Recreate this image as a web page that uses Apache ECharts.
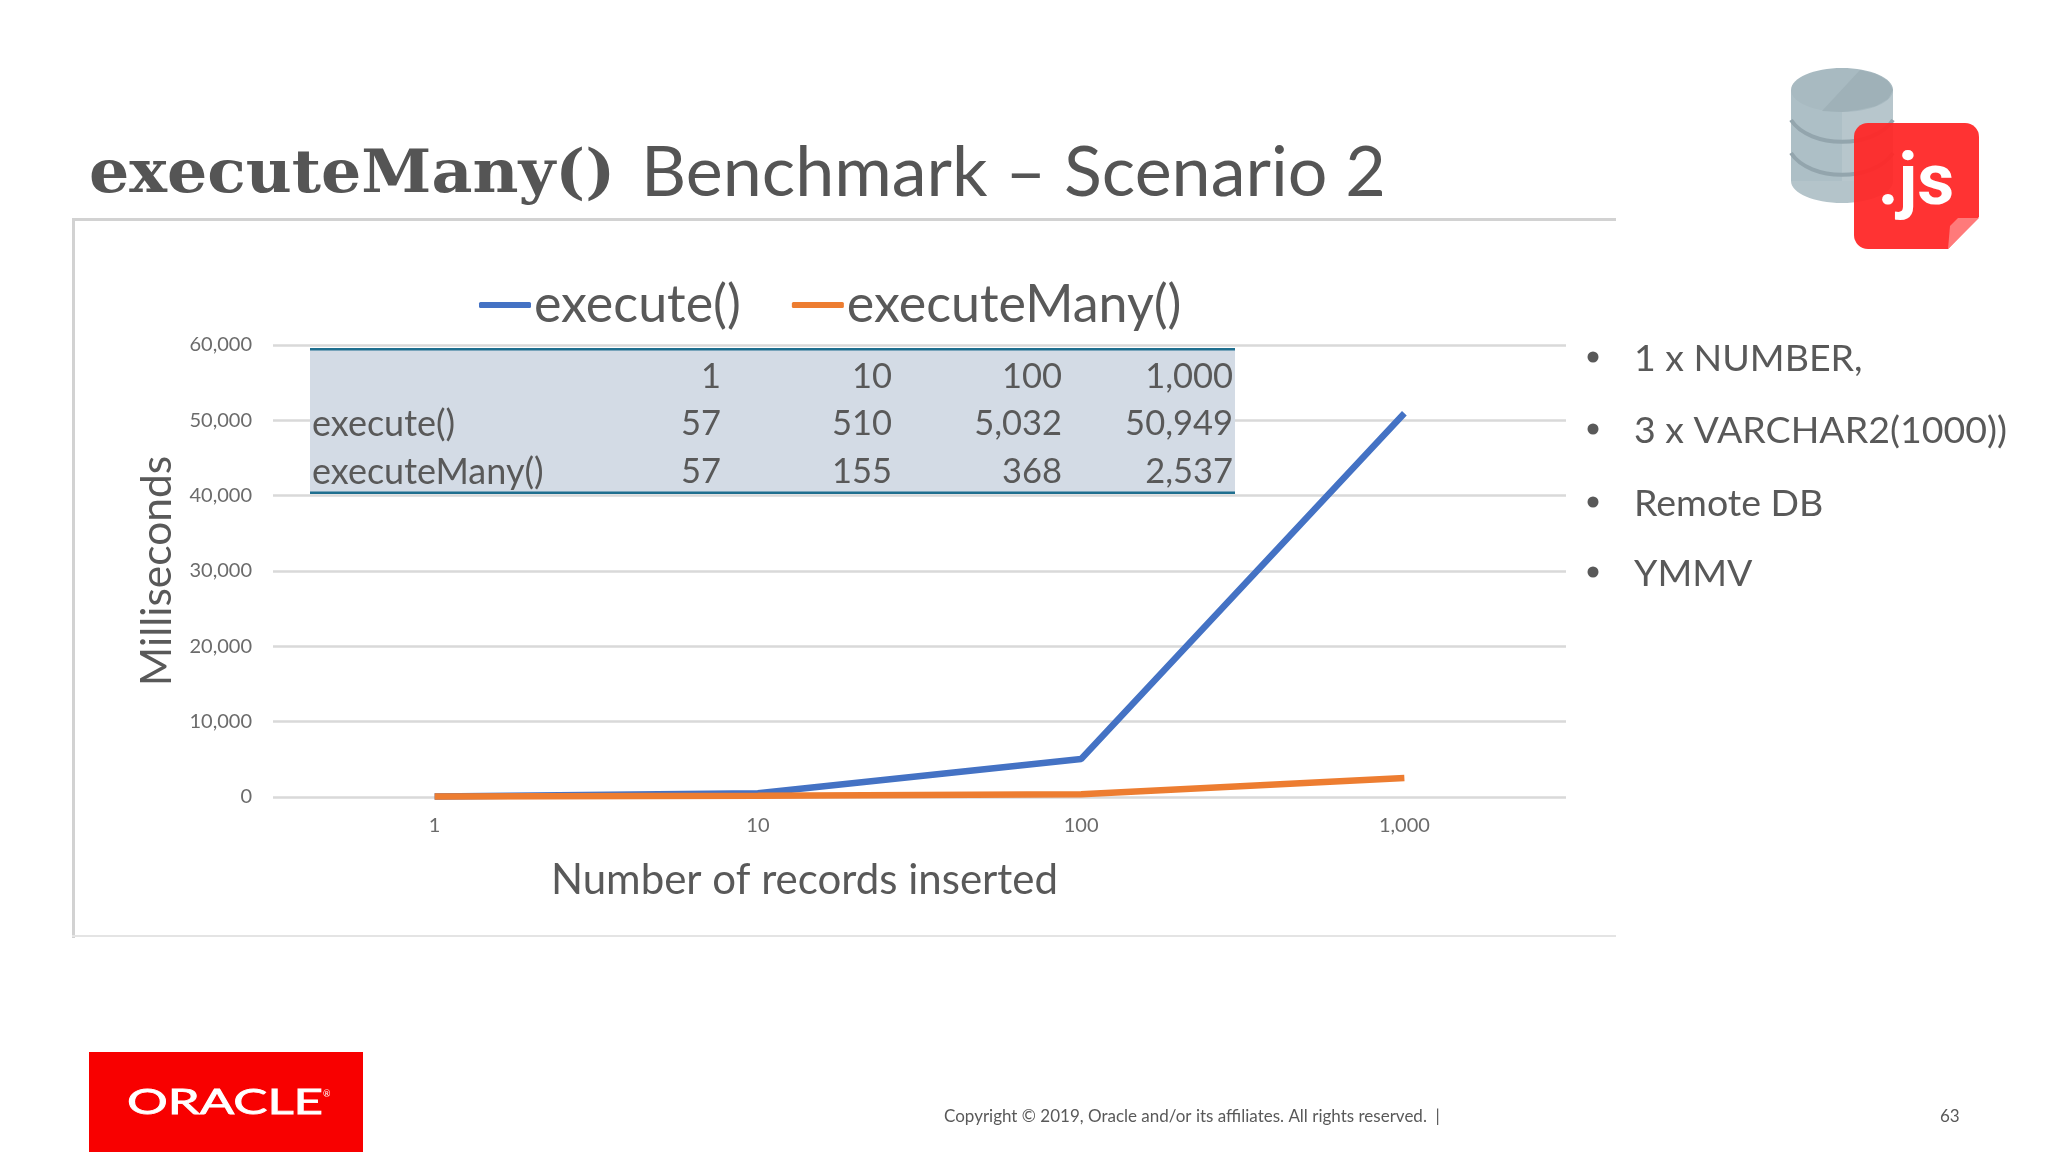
<!DOCTYPE html>
<html>
<head>
<meta charset="utf-8">
<style>html,body{margin:0;background:#fff}#main{width:2048px;height:1152px}</style>
<script src="https://cdn.jsdelivr.net/npm/echarts@6/dist/echarts.min.js"></script>
</head>
<body>
<div id="main"></div>
<script>
var categories = ['1', '10', '100', '1,000'];
var executeValues = [57, 510, 5032, 50949];
var executeManyValues = [57, 155, 368, 2537];
var yTicks = [0, 10000, 20000, 30000, 40000, 50000, 60000];
var seriesNames = ['execute()', 'executeMany()'];
var bullets = ['1 x NUMBER,', '3 x VARCHAR2(1000))', 'Remote DB', 'YMMV'];

var font = 'Lato';
var textColor = '#595959';

function fmt(v) {
    return v.toLocaleString('en-US');
}

function txt(x, y, text, size, color, align, extra) {
    var style = {
        x: x, y: y, text: text,
        font: size + 'px ' + font,
        fill: color || textColor,
        textAlign: align || 'left',
        textVerticalAlign: 'middle'
    };
    for (var k in extra) style[k] = extra[k];
    return { type: 'text', z: 20, style: style };
}

function box(x, y, w, h, color, z, r) {
    return { type: 'rect', z: z || 1, shape: { x: x, y: y, width: w, height: h, r: r || 0 }, style: { fill: color } };
}

var els = [];

// slide title, code part stretched to the width of the typewriter face
els.push({
    type: 'text', z: 20, x: 89, y: 176, scaleX: 1.055,
    style: { x: 0, y: 0, text: 'executeMany()', font: 'bold 60px "DejaVu Serif"', fill: '#555', textVerticalAlign: 'middle' }
});

// panel border round the pasted chart
els.push(box(72, 218, 1544, 3, '#d2d2d2', 1));
els.push(box(72, 218, 3, 720, '#d2d2d2', 1));
els.push(box(72, 935, 1544, 2, '#e4e4e4', 1));

// table on top of the chart
var colX = [721, 892, 1062, 1233];
var rowY = [377, 424, 472];
els.push(box(310, 349, 925, 144, '#d3dbe5', 10));
els.push(box(310, 348, 925, 2.5, '#1f6f8f', 11));
els.push(box(310, 491.5, 925, 2.5, '#1f6f8f', 11));
categories.forEach(function (c, i) {
    els.push(txt(colX[i], rowY[0], c, 34.5, textColor, 'right'));
    els.push(txt(colX[i], rowY[1], fmt(executeValues[i]), 34.5, textColor, 'right'));
    els.push(txt(colX[i], rowY[2], fmt(executeManyValues[i]), 34.5, textColor, 'right'));
});
els.push(txt(312, rowY[1], seriesNames[0], 36));
els.push(txt(312, rowY[2], seriesNames[1], 36));

// bullets on the right
var bulletY = [359, 431, 504, 574];
bullets.forEach(function (b, i) {
    els.push({ type: 'circle', z: 20, shape: { cx: 1593, cy: bulletY[i] - 2, r: 5.5 }, style: { fill: textColor } });
    els.push(txt(1634, bulletY[i], b, 37.5));
});

// footer
els.push(txt(944, 1117, 'Copyright © 2019, Oracle and/or its affiliates. All rights reserved.  |', 17));
els.push(txt(1940, 1117, '63', 17));

// oracle logo
els.push(box(89, 1052, 274, 100, '#f80000', 5));
els.push({
    type: 'text', z: 20, x: 127, y: 1103, scaleX: 1.5,
    style: { x: 0, y: 0, text: 'ORACLE', font: '34px ' + font, fill: '#fff', stroke: '#fff', lineWidth: 0.8, textVerticalAlign: 'middle' }
});
els.push(txt(323, 1094, '®', 9, '#fff'));

// database + .js icon
els.push({ type: 'ellipse', z: 5, shape: { cx: 1842, cy: 181, rx: 51, ry: 22 }, style: { fill: '#b4c4ca' } });
els.push(box(1791, 90, 51, 91, '#adbfc6', 5));
els.push(box(1842, 90, 51, 91, '#b7c6cc', 5));
els.push({ type: 'bezierCurve', z: 6, shape: { x1: 1791, y1: 120, cpx1: 1810, cpy1: 149, cpx2: 1874, cpy2: 149, x2: 1893, y2: 120 }, style: { stroke: '#93a5ad', lineWidth: 4, fill: 'none' } });
els.push({ type: 'bezierCurve', z: 6, shape: { x1: 1791, y1: 153, cpx1: 1810, cpy1: 182, cpx2: 1874, cpy2: 182, x2: 1893, y2: 153 }, style: { stroke: '#93a5ad', lineWidth: 4, fill: 'none' } });
els.push({ type: 'ellipse', z: 7, shape: { cx: 1842, cy: 90, rx: 51, ry: 22 }, style: { fill: '#a8bac1' } });
els.push({ type: 'polygon', z: 8, shape: { points: [[1822, 111], [1860, 70], [1876, 74], [1888, 81], [1893, 90], [1888, 99], [1876, 106], [1858, 110], [1842, 112]] }, style: { fill: '#9fb1b8' } });
els.push({ type: 'rect', z: 9, shape: { x: 1854, y: 123, width: 125, height: 126, r: 14 }, style: { fill: '#ff2626', opacity: 0.94 } });
els.push({ type: 'polygon', z: 10, shape: { points: [[1948, 249], [1979, 217], [1979, 249]] }, style: { fill: '#ffffff' } });
els.push({ type: 'polygon', z: 11, shape: { points: [[1948, 249], [1979, 218], [1958, 218], [1950, 226]] }, style: { fill: '#ff7a7a' } });
els.push({
    type: 'text', z: 20,
    style: { x: 1916, y: 222, text: '.js', font: 'bold 72px Roboto', fill: '#fff', textAlign: 'center', textVerticalAlign: 'bottom' }
});

var option = {
    backgroundColor: '#fff',
    animation: false,
    title: {
        text: 'Benchmark – Scenario 2', left: 636, top: 133,
        textStyle: { fontFamily: font, fontWeight: 'normal', fontSize: 70, color: '#555' }
    },
    legend: {
        data: seriesNames,
        left: 474, top: 274,
        icon: 'roundRect',
        itemWidth: 52, itemHeight: 6, itemGap: 51,
        textStyle: { fontFamily: font, fontSize: 52, color: textColor, padding: [0, 0, 0, -2] }
    },
    grid: { left: 273, right: 482, top: 345, bottom: 355 },
    xAxis: {
        type: 'category',
        data: categories,
        name: 'Number of records inserted',
        nameLocation: 'middle',
        nameGap: 62,
        nameTextStyle: { fontFamily: font, fontSize: 42, color: textColor, padding: [0, 230, 0, 0] },
        axisLine: { show: false },
        axisTick: { show: false },
        axisLabel: { margin: 19, fontFamily: font, fontSize: 20, color: '#6b6b6b' }
    },
    yAxis: {
        type: 'value',
        min: yTicks[0],
        max: yTicks[yTicks.length - 1],
        interval: yTicks[1],
        name: 'Milliseconds',
        nameLocation: 'middle',
        nameGap: 94,
        nameTextStyle: { fontFamily: font, fontSize: 42.5, color: textColor },
        axisLabel: { margin: 21, fontFamily: font, fontSize: 20, color: '#6b6b6b', formatter: fmt },
        splitLine: { lineStyle: { color: '#d9d9d9', width: 2.5 } }
    },
    series: [{
        name: seriesNames[0],
        type: 'line',
        data: executeValues,
        symbol: 'none',
        lineStyle: { color: '#4472c4', width: 6.5 },
        itemStyle: { color: '#4472c4' }
    }, {
        name: seriesNames[1],
        type: 'line',
        data: executeManyValues,
        symbol: 'none',
        lineStyle: { color: '#ed7d31', width: 6.5 },
        itemStyle: { color: '#ed7d31' }
    }],
    graphic: { elements: els }
};

var myChart = echarts.init(document.getElementById('main'));
myChart.setOption(option);
</script>
</body>
</html>
